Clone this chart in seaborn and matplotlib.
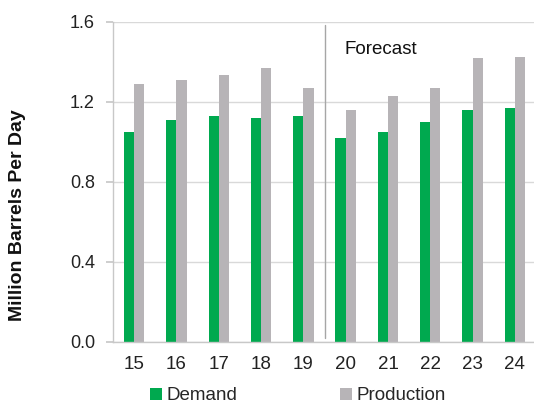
import matplotlib
matplotlib.use("Agg")
import matplotlib.pyplot as plt
import seaborn as sns
import pandas as pd

years = ["15", "16", "17", "18", "19", "20", "21", "22", "23", "24"]
demand = [1.05, 1.11, 1.13, 1.12, 1.13, 1.02, 1.05, 1.10, 1.16, 1.17]
production = [1.29, 1.31, 1.335, 1.37, 1.27, 1.16, 1.23, 1.27, 1.42, 1.425]
series = ["Demand", "Production"]
colors = ["#00a94f", "#b7b4b7"]
yticks = [0.0, 0.4, 0.8, 1.2, 1.6]

df = pd.DataFrame({
    "Year": years * 2,
    "Value": demand + production,
    "Series": [series[0]] * len(years) + [series[1]] * len(years),
})

sns.set_theme(style="white")
plt.rcParams["font.family"] = ["Liberation Sans", "DejaVu Sans"]

fig = plt.figure(figsize=(5.34, 4.05), dpi=100)
ax = fig.add_axes([113 / 534, 1 - 342 / 405, (536 - 113) / 534, 320 / 405])

sns.barplot(data=df, x="Year", y="Value", hue="Series", hue_order=series,
            palette=colors, width=0.48, saturation=1, ax=ax, legend=True,
            linewidth=0)

ax.set_ylim(0, 1.6)
ax.set_xlim(-0.5, 9.5)
ax.set_yticks(yticks)
ax.set_yticklabels([f"{v:.1f}" for v in yticks])
ax.yaxis.grid(True, color="#d9d9d9", linewidth=1)
ax.set_axisbelow(True)
for s in ["top", "right"]:
    ax.spines[s].set_visible(False)
for s in ["left", "bottom"]:
    ax.spines[s].set_color("#c8c8c8")
    ax.spines[s].set_linewidth(1)
ax.tick_params(axis="y", which="both", left=True, length=5, color="#c8c8c8",
               labelsize=13, pad=8, labelcolor="#222222")
ax.tick_params(axis="x", bottom=False, labelsize=13.5, pad=4, labelcolor="#222222")
ax.set_xlabel("")
ax.set_ylabel("")

# forecast divider
ax.plot([4.5, 4.5], [0.02, 1.585], color="#a6a6a6", linewidth=1)
ax.text(4.98, 1.465, "Forecast", fontsize=13.5, color="#111111",
        ha="left", va="center")

fig.text(18 / 534, 1 - 215 / 405, "Million Barrels Per Day", rotation=90,
         fontsize=14, fontweight="bold", ha="center", va="center",
         color="#111111")

handles, labels = ax.get_legend_handles_labels()
ax.legend(handles, labels, loc="center", bbox_to_anchor=(298 / 534, 1 - 396 / 405),
          bbox_transform=fig.transFigure, ncol=2, frameon=False,
          fontsize=13.5, handlelength=0.6, handleheight=0.6,
          handletextpad=0.25, columnspacing=5.5, borderpad=0)

fig.savefig("out.png", dpi=100)
